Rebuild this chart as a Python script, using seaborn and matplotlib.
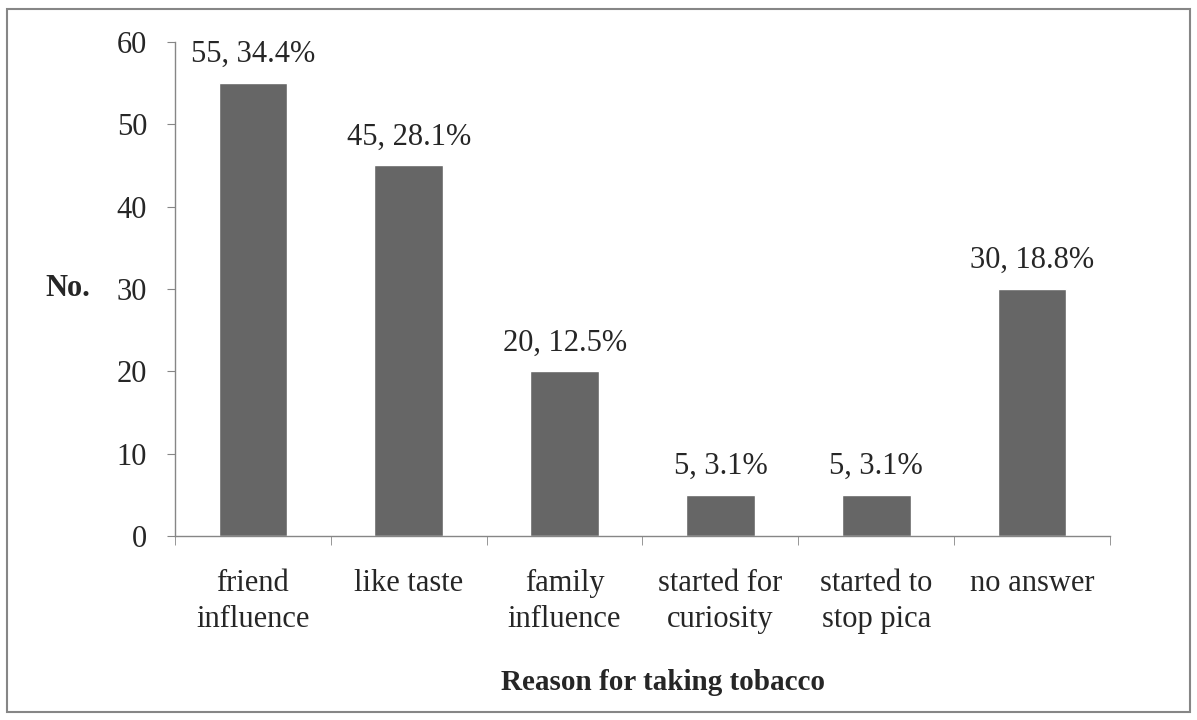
import numpy as np
import pandas as pd
import matplotlib
matplotlib.use("Agg")
import matplotlib.pyplot as plt
import seaborn as sns
from matplotlib.patches import Rectangle
from matplotlib.ticker import FixedLocator

# Datos
razones = ["friend\ninfluence", "like taste", "family\ninfluence",
           "started for\ncuriosity", "started to\nstop pica", "no answer"]
numeros = [55, 45, 20, 5, 5, 30]
porcentajes = ["34.4%", "28.1%", "12.5%", "3.1%", "3.1%", "18.8%"]
y_ticks = [0, 10, 20, 30, 40, 50, 60]

df = pd.DataFrame({"razon": razones, "n": numeros})

sns.set_style("white")
plt.rcParams["font.family"] = ["Liberation Serif", "DejaVu Serif"]

fs = 22
fig = plt.figure(figsize=(11.97, 7.2), dpi=100)
ax = fig.add_axes([0.1462, 0.2556, 0.7811, 0.6861])

sns.barplot(data=df, x="razon", y="n", color="#666666", width=0.44,
            saturation=1, ax=ax)

for i, (n, p) in enumerate(zip(numeros, porcentajes)):
    ax.annotate(f"{n}, {p}", (i, n), xytext=(0, 15), textcoords="offset points",
                ha="center", va="baseline", fontsize=fs)

ax.set_ylim(0, 60)
ax.set_xlim(-0.5, len(razones) - 0.5)
ax.set_yticks(y_ticks)
ax.tick_params(axis="y", labelsize=fs, length=6, color="#868686", direction="out",
               left=True, pad=14)
ax.tick_params(axis="x", which="major", labelsize=fs, length=0, pad=24)
ax.xaxis.set_minor_locator(FixedLocator(np.arange(-0.5, len(razones), 1.0)))
ax.tick_params(axis="x", which="minor", length=6.5, color="#868686", direction="out",
               bottom=True)
for lab in ax.get_xticklabels():
    lab.set_linespacing(1.3)

for s in ["top", "right"]:
    ax.spines[s].set_visible(False)
for s in ["left", "bottom"]:
    ax.spines[s].set_color("#868686")
    ax.spines[s].set_linewidth(1.0)

ax.set_xlabel("Reason for taking tobacco", fontsize=21, fontweight="bold")
ax.xaxis.set_label_coords(0.522, -0.27)
ax.set_ylabel("No.", fontsize=fs, fontweight="bold", rotation=0, va="center", ha="center")
ax.yaxis.set_label_coords(-0.115, 0.5)

# Marco exterior
fig.patches.append(Rectangle((7 / 1197, 8 / 720), 1183 / 1197, 703 / 720,
                             transform=fig.transFigure, fill=False,
                             edgecolor="#868686", linewidth=1.5))

plt.savefig("out.png", dpi=100)
